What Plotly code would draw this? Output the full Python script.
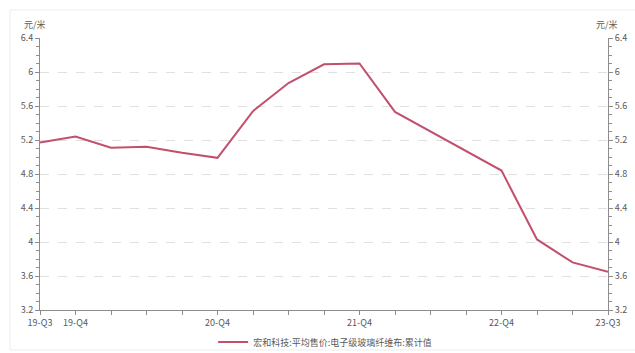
import plotly.graph_objects as go

quarters = ["19-Q3", "19-Q4", "20-Q1", "20-Q2", "20-Q3", "20-Q4",
            "21-Q1", "21-Q2", "21-Q3", "21-Q4",
            "22-Q1", "22-Q2", "22-Q3", "22-Q4",
            "23-Q1", "23-Q2", "23-Q3"]
price = [5.17, 5.24, 5.11, 5.12, 5.05, 4.99,
         5.54, 5.87, 6.09, 6.10,
         5.53, 5.30, 5.08, 4.84,
         4.03, 3.76, 3.65]
labeled = ["19-Q3", "19-Q4", "20-Q4", "21-Q4", "22-Q4", "23-Q3"]
series_name = "宏和科技:平均售价:电子级玻璃纤维布:累计值"
unit = "元/米"
y_ticks = [3.2, 3.6, 4.0, 4.4, 4.8, 5.2, 5.6, 6.0, 6.4]
y_ticktext = ["3.2", "3.6", "4", "4.4", "4.8", "5.2", "5.6", "6", "6.4"]

FONT = "Noto Sans CJK SC"
LINE = "#C2506C"
AX = "#8C8C8C"
TXT = "#595959"

fig = go.Figure()
fig.add_trace(go.Scatter(x=quarters, y=price, mode="lines", name=series_name,
                         line=dict(color=LINE, width=2), yaxis="y"))
fig.add_trace(go.Scatter(x=quarters, y=price, mode="lines", showlegend=False,
                         line=dict(color="rgba(0,0,0,0)", width=0), hoverinfo="skip",
                         yaxis="y2"))

yax = dict(range=[3.2, 6.4], tickvals=y_ticks, ticktext=y_ticktext, automargin=False,
           ticks="outside", ticklen=4, tickcolor=AX, showline=True, linecolor=AX,
           linewidth=1, tickfont=dict(family=FONT, size=9, color=TXT),
           minor=dict(dtick=0.1, tick0=3.2, ticks="outside", ticklen=3, tickcolor=AX, showgrid=False),
           zeroline=False)

fig.update_layout(
    width=635, height=353,
    margin=dict(l=40, r=27, t=38, b=43, autoexpand=False),
    paper_bgcolor="white", plot_bgcolor="white",
    font=dict(family=FONT, size=9, color=TXT),
    xaxis=dict(type="category", tickvals=quarters, automargin=False,
               ticktext=[q if q in labeled else "" for q in quarters],
               ticks="outside", ticklen=4, tickcolor=AX, showline=True, linecolor=AX,
               linewidth=1, showgrid=False, range=[0, len(quarters) - 1],
               tickfont=dict(family=FONT, size=9, color=TXT), tickangle=0),
    yaxis=dict(**yax, side="left", showgrid=True, gridcolor="#E0E0E0", griddash="dash"),
    yaxis2=dict(**yax, side="right", overlaying="y", showgrid=False),
    showlegend=True,
    legend=dict(orientation="h", x=0.502, xanchor="center", y=-0.118, yanchor="middle",
                font=dict(family=FONT, size=9, color=TXT), bgcolor="rgba(0,0,0,0)"),
    annotations=[
        dict(text=unit, xref="paper", yref="paper", x=-0.008, y=1.051, xanchor="center",
             yanchor="middle", showarrow=False, font=dict(family=FONT, size=9, color=TXT)),
        dict(text=unit, xref="paper", yref="paper", x=0.998, y=1.051, xanchor="center",
             yanchor="middle", showarrow=False, font=dict(family=FONT, size=9, color=TXT)),
    ],
    shapes=[dict(type="rect", xref="paper", yref="paper", x0=-0.0528, x1=1.06,
                 y0=-0.147, y1=1.103, line=dict(color="#EDEDED", width=1), layer="below")],
)

fig.write_html("out.html")
